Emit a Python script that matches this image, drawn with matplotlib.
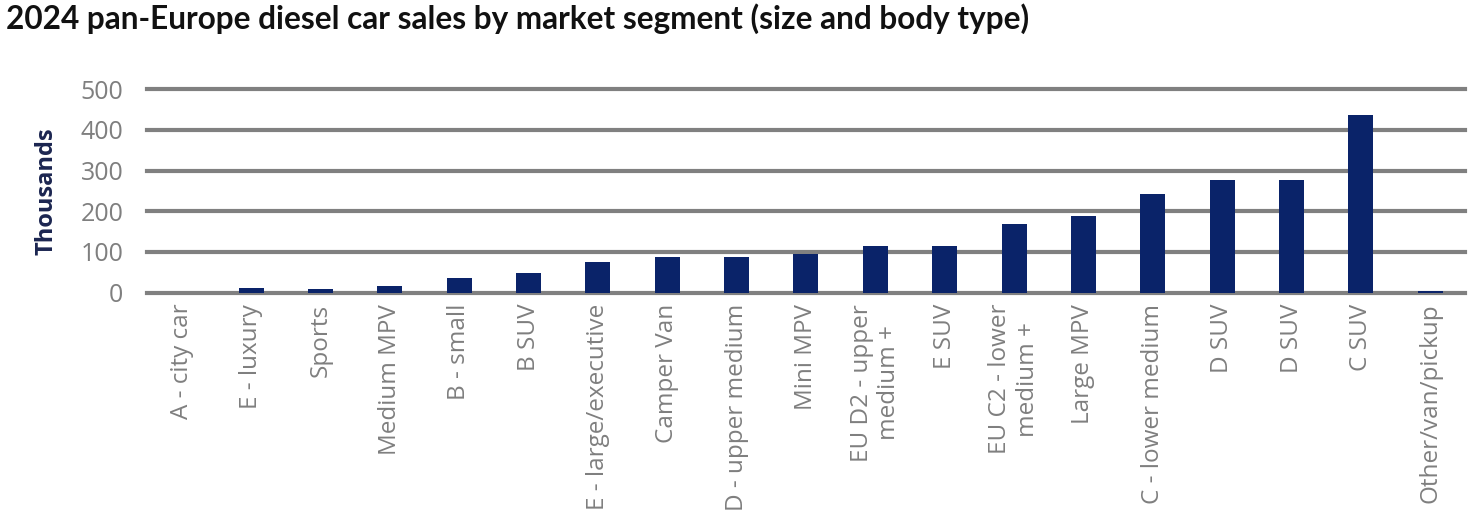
import matplotlib.pyplot as plt
import numpy as np

# Segmentos e vendas (milhares)
segments = [
    "A - city car", "E - luxury", "Sports", "Medium MPV", "B - small", "B SUV",
    "E - large/executive", "Camper Van", "D - upper medium", "Mini MPV",
    "EU D2 - upper\nmedium +", "E SUV", "EU C2 - lower\nmedium +", "Large MPV",
    "C - lower medium", "D SUV", "D SUV", "C SUV", "Other/van/pickup",
]
sales = [0, 11, 10, 16, 36, 48, 75, 88, 88, 95, 115, 115, 169, 188, 242, 277, 277, 436, 5]
yticks = [0, 100, 200, 300, 400, 500]


def main():
    plt.rcParams["font.family"] = ["Open Sans", "DejaVu Sans"]
    fig = plt.figure(figsize=(14.82, 5.30), dpi=100)
    ax = fig.add_axes([0.0992, 0.4477, 0.8893, 0.3843])

    x = np.arange(len(sales))
    ax.bar(x, sales, width=0.36, color="#0A2369", zorder=3)

    ax.set_xlim(-0.5, len(sales) - 0.5)
    ax.set_ylim(0, 500)
    ax.set_yticks(yticks)
    ax.set_yticklabels([str(t) for t in yticks], fontsize=18, color="#7F7F7F")
    ax.set_xticks(x)
    ax.set_xticklabels(segments, rotation=90, fontsize=17.5, color="#7F7F7F",
                       multialignment="center")
    ax.tick_params(length=0, pad=8)
    ax.tick_params(axis="y", pad=17)

    for t in yticks:
        ax.axhline(t, color="#808080", linewidth=3.0, zorder=1, clip_on=False)
    for s in ax.spines.values():
        s.set_visible(False)

    ax.set_ylabel("Thousands", fontsize=17, fontweight="bold", color="#1B2550", labelpad=16)

    fig.text(0.004, 0.965, "2024 pan-Europe diesel car sales by market segment (size and body type)",
             fontsize=22.7, fontweight="bold", color="#111111", va="center", ha="left",
             family=["Lato", "DejaVu Sans"])

    fig.savefig("out.png", dpi=100)


if __name__ == "__main__":
    main()
